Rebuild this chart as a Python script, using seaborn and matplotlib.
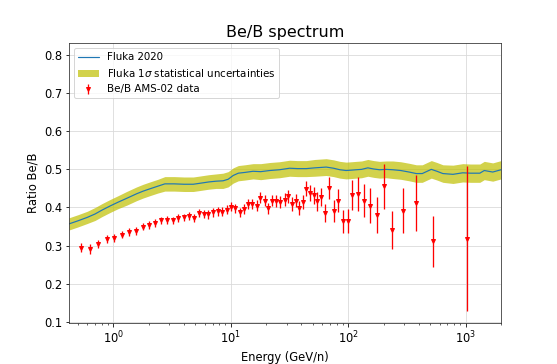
import matplotlib
matplotlib.use('Agg')
import matplotlib.pyplot as plt
import seaborn as sns
import pandas as pd

# Fluka 2020 prediction
fluka_energy = [0.42, 0.5, 0.6, 0.7, 0.8, 0.94, 1.1, 1.3, 1.58, 1.8, 2.05, 2.4, 2.75,
                3.3, 4.0, 4.8, 5.6, 6.5, 7.5, 8.6, 9.5, 10.5, 11.6, 13.2, 15.5, 18,
                21.5, 26, 31.7, 37, 44, 52, 65, 75, 85, 96, 107, 117, 130, 147, 165,
                185, 210, 240, 280, 330, 380, 427, 470, 510, 570, 640, 780, 945,
                1100, 1320, 1440, 1700, 2000]
fluka_ratio = [0.357, 0.365, 0.374, 0.383, 0.393, 0.404, 0.414, 0.424, 0.436, 0.443,
               0.449, 0.456, 0.462, 0.462, 0.461, 0.461, 0.464, 0.467, 0.469, 0.470,
               0.474, 0.484, 0.490, 0.492, 0.495, 0.494, 0.497, 0.499, 0.503, 0.502,
               0.502, 0.504, 0.506, 0.503, 0.499, 0.497, 0.498, 0.499, 0.500, 0.504,
               0.501, 0.499, 0.500, 0.499, 0.497, 0.493, 0.489, 0.489, 0.495, 0.500,
               0.495, 0.489, 0.487, 0.491, 0.490, 0.490, 0.497, 0.493, 0.499]
fluka_sigma = [0.016, 0.016, 0.016, 0.017, 0.017, 0.017, 0.017, 0.018, 0.018, 0.018,
               0.018, 0.018, 0.019, 0.019, 0.019, 0.019, 0.019, 0.019, 0.019, 0.020,
               0.020, 0.020, 0.020, 0.020, 0.020, 0.021, 0.021, 0.021, 0.021, 0.021,
               0.021, 0.022, 0.022, 0.022, 0.022, 0.022, 0.022, 0.022, 0.022, 0.022,
               0.022, 0.022, 0.022, 0.023, 0.023, 0.023, 0.023, 0.023, 0.023, 0.023,
               0.023, 0.023, 0.024, 0.024, 0.024, 0.024, 0.024, 0.024, 0.024]

# AMS-02 Be/B data
ams_energy = [0.53, 0.63, 0.745, 0.88, 1.02, 1.19, 1.37, 1.57, 1.79, 2.01, 2.28, 2.56,
              2.86, 3.22, 3.57, 3.97, 4.40, 4.86, 5.35, 5.87, 6.43, 7.04, 7.72, 8.45,
              9.21, 10.0, 10.9, 11.9, 12.9, 14.1, 15.3, 16.6, 17.9, 19.4, 20.9, 22.6,
              24.5, 26.5, 28.7, 31.0, 33.3, 35.8, 38.2, 41.0, 43.8, 47.0, 50.9, 54.7,
              59.2, 63.5, 69.2, 75.3, 82.6, 89.8, 99, 108.7, 121, 135.6, 152, 174.8,
              201.5, 237.6, 290.6, 375, 526, 1024]
ams_ratio = [0.295, 0.291, 0.304, 0.317, 0.320, 0.329, 0.335, 0.339, 0.350, 0.354,
             0.359, 0.366, 0.368, 0.366, 0.372, 0.374, 0.377, 0.373, 0.386, 0.383,
             0.382, 0.387, 0.390, 0.389, 0.394, 0.402, 0.398, 0.387, 0.397, 0.408,
             0.410, 0.405, 0.426, 0.418, 0.398, 0.418, 0.416, 0.414, 0.420, 0.429,
             0.410, 0.418, 0.399, 0.414, 0.449, 0.438, 0.432, 0.416, 0.427, 0.385,
             0.452, 0.390, 0.418, 0.364, 0.364, 0.433, 0.436, 0.418, 0.405, 0.381,
             0.456, 0.341, 0.392, 0.412, 0.311, 0.318]
ams_err = [0.012, 0.012, 0.011, 0.011, 0.011, 0.010, 0.010, 0.010, 0.010, 0.010,
           0.010, 0.010, 0.010, 0.010, 0.010, 0.010, 0.010, 0.010, 0.011, 0.011,
           0.011, 0.011, 0.011, 0.011, 0.012, 0.012, 0.012, 0.012, 0.013, 0.013,
           0.013, 0.014, 0.014, 0.014, 0.015, 0.015, 0.016, 0.016, 0.017, 0.017,
           0.018, 0.018, 0.019, 0.019, 0.020, 0.021, 0.022, 0.024, 0.024, 0.024,
           0.029, 0.029, 0.031, 0.030, 0.031, 0.040, 0.044, 0.043, 0.045, 0.047,
           0.059, 0.050, 0.060, 0.073, 0.068, 0.190]

fluka = pd.DataFrame({'E': fluka_energy, 'ratio': fluka_ratio, 'sigma': fluka_sigma})
ams = pd.DataFrame({'E': ams_energy, 'ratio': ams_ratio, 'err': ams_err})

sns.set_style('ticks', {'axes.grid': True, 'grid.color': '#d9d9d9',
                        'axes.edgecolor': '#333333', 'text.color': 'black',
                        'axes.labelcolor': 'black', 'xtick.color': 'black',
                        'ytick.color': 'black'})
plt.rcParams['font.family'] = ['DejaVu Sans']
plt.rcParams['font.size'] = 11.5

fig = plt.figure(figsize=(557 / 72, 364 / 72), dpi=72)
ax = fig.add_axes([0.1239, 0.1126, 0.7756, 0.7693])

sns.lineplot(x='E', y='ratio', data=fluka, ax=ax, color='#1f77b4', lw=1.2,
             label='Fluka 2020', estimator=None, sort=False)
ax.fill_between(fluka['E'], fluka['ratio'] - fluka['sigma'], fluka['ratio'] + fluka['sigma'],
                color='y', alpha=0.7, lw=0, label='Fluka 1$\\sigma$ statistical uncertainties')
ax.errorbar(ams['E'], ams['ratio'], yerr=ams['err'], fmt='v', color='red', ecolor='red',
            ms=4, elinewidth=1.3, label='Be/B AMS-02 data')

ax.set_xscale('log')
ax.set_xlim(0.42, 2000)
ax.set_ylim(0.097, 0.8315)
ax.set_title('Be/B spectrum', fontsize=16)
ax.set_xlabel('Energy (GeV/n)', fontsize=11.5)
ax.set_ylabel('Ratio Be/B', fontsize=11.5)
ax.tick_params(labelsize=11.5)
ax.legend(loc='upper left', fontsize=10.2)

fig.savefig('out.png', dpi=72)
